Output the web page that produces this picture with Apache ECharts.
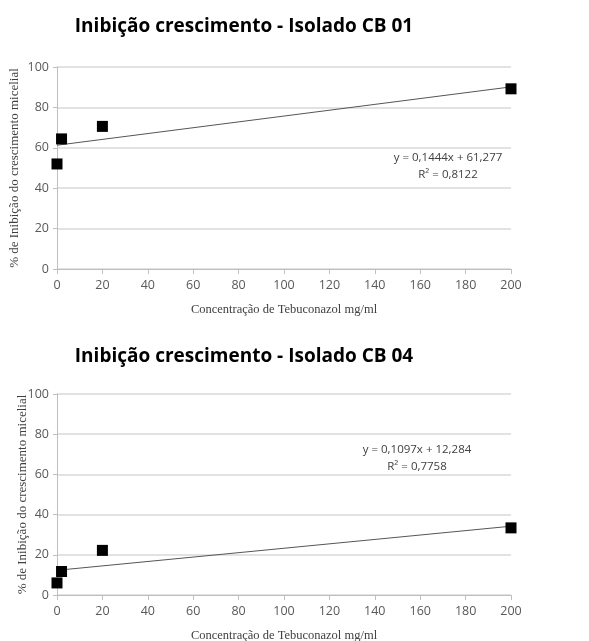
<!DOCTYPE html>
<html><head><meta charset="utf-8">
<script src="https://cdn.jsdelivr.net/npm/echarts@6/dist/echarts.min.js"></script>
<style>html,body{margin:0;padding:0;background:#fff}#c{width:589px;height:641px}</style>
</head><body><div id="c"></div>
<script>
var titles = ['Inibição crescimento - Isolado CB 01', 'Inibição crescimento - Isolado CB 04'];
var xAxisName = 'Concentração de Tebuconazol mg/ml';
var yAxisName = '% de Inibição do crescimento micelial';
var concentrations = [0, 2, 20, 200];
var cb01Values = [52, 64.4, 70.6, 89.2];
var cb04Values = [6, 11.7, 22.2, 33.4];
var slopes = [0.1444, 0.1097];
var intercepts = [61.277, 12.284];
var equations = ['y = 0,1444x + 61,277', 'y = 0,1097x + 12,284'];
var r2Labels = ['R² = 0,8122', 'R² = 0,7758'];

var chart = echarts.init(document.getElementById('c'));
var grids = [
  {left: 57, right: 78, top: 67, height: 202, containLabel: false, outerBoundsMode: 'none'},
  {left: 57, right: 78, top: 394, height: 201, containLabel: false, outerBoundsMode: 'none'}
];
var nameGaps = [36, 28];
var xAxes = [], yAxes = [], series = [], graphics = [];
var titleY = [27, 357];
var eqPos = [[448, 158, 175], [417, 450, 467]];
[cb01Values, cb04Values].forEach(function (vals, i) {
  xAxes.push({
    type: 'value', gridIndex: i, min: 0, max: 200, interval: 20,
    name: xAxisName, nameLocation: 'middle', nameGap: 34, nameMoveOverlap: false,
    nameTextStyle: {fontFamily: 'Liberation Serif', fontSize: 12.5, color: '#404040'},
    axisLine: {show: true, lineStyle: {color: '#bfbfbf', width: 1}},
    axisTick: {show: true, length: 5, lineStyle: {color: '#bfbfbf'}},
    axisLabel: {fontFamily: 'Open Sans', fontSize: 12.5, color: '#595959', margin: 10},
    splitLine: {show: false}
  });
  yAxes.push({
    type: 'value', gridIndex: i, min: 0, max: 100, interval: 20,
    name: yAxisName, nameLocation: 'middle', nameGap: nameGaps[i], nameMoveOverlap: false,
    nameTextStyle: {fontFamily: 'Liberation Serif', fontSize: 13, color: '#404040'},
    axisLine: {show: true, lineStyle: {color: '#bfbfbf', width: 1}},
    axisTick: {show: true, length: 4, lineStyle: {color: '#bfbfbf'}},
    axisLabel: {fontFamily: 'Open Sans', fontSize: 12.5, color: '#595959', margin: 8},
    splitLine: {show: true, lineStyle: {color: '#d9d9d9', width: 1.5}}
  });
  series.push({
    type: 'line', xAxisIndex: i, yAxisIndex: i, symbol: 'none', silent: true,
    lineStyle: {color: '#555', width: 1},
    data: [[0, intercepts[i]], [200, intercepts[i] + slopes[i] * 200]],
    z: 2
  });
  series.push({
    type: 'scatter', xAxisIndex: i, yAxisIndex: i, symbol: 'rect', symbolSize: 11,
    itemStyle: {color: '#000', opacity: 1},
    data: concentrations.map(function (c, k) { return [c, vals[k]]; }),
    z: 3
  });
  graphics.push({
    type: 'text', x: 244, y: titleY[i],
    style: {text: titles[i], font: 'bold 19px "Open Sans"', fill: '#000', align: 'center', verticalAlign: 'middle'}
  });
  graphics.push({
    type: 'text', x: eqPos[i][0], y: eqPos[i][1],
    style: {text: equations[i], font: '11.5px "Open Sans"', fill: '#404040', align: 'center', verticalAlign: 'middle'}
  });
  graphics.push({
    type: 'text', x: eqPos[i][0], y: eqPos[i][2],
    style: {text: r2Labels[i], font: '11.5px "Open Sans"', fill: '#404040', align: 'center', verticalAlign: 'middle'}
  });
});
chart.setOption({
  animation: false,
  grid: grids,
  xAxis: xAxes,
  yAxis: yAxes,
  series: series,
  graphic: graphics
});
</script></body></html>
